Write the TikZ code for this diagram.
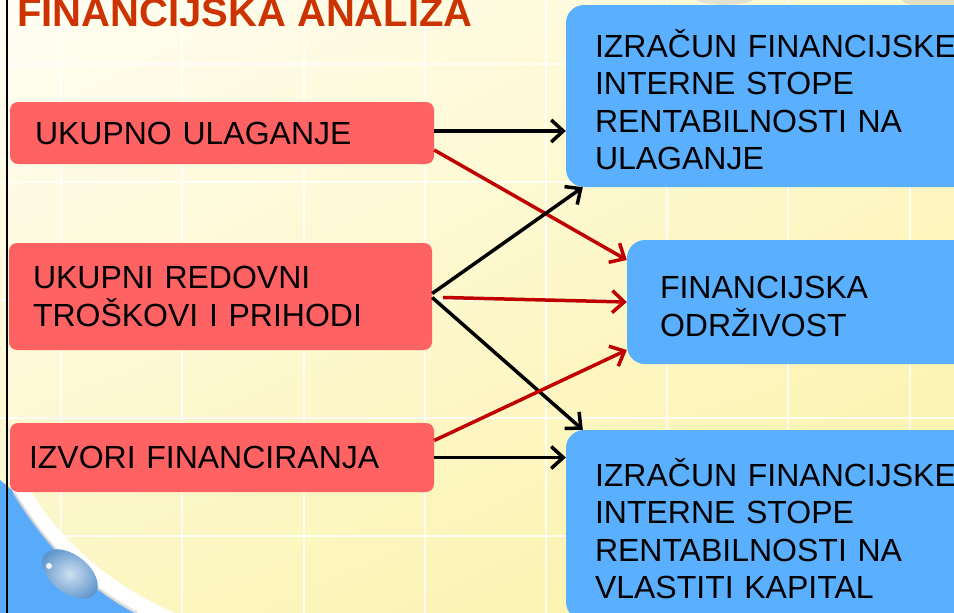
\documentclass[tikz,border=0pt]{standalone}
\usepackage{fontspec}
\setmainfont{Liberation Sans}
\usetikzlibrary{arrows.meta,shadings}
\definecolor{redbox}{RGB}{255,98,98}
\definecolor{bluebox}{RGB}{90,175,254}
\definecolor{titlered}{RGB}{204,51,0}
\definecolor{arrred}{RGB}{192,0,0}
\definecolor{bgA}{RGB}{255,254,244}
\definecolor{bgB}{RGB}{253,248,205}
\definecolor{bgC}{RGB}{252,246,196}
\definecolor{bgD}{RGB}{252,242,165}
\definecolor{decoblue}{RGB}{88,170,250}
\definecolor{dropcol}{RGB}{95,150,205}
\tikzset{
  boxtext/.style={font=\fontsize{32}{37.5}\selectfont, align=left, inner ysep=0pt, anchor=center},
  redb/.style={boxtext, fill=redbox, rounded corners=8pt},
  blueb/.style={boxtext, fill=bluebox, rounded corners=18pt},
  conn/.style={line width=3.5pt, -{Straight Barb[length=12pt,width=22pt,line width=3.5pt]}},
  blackconn/.style={conn, draw=black},
  redconn/.style={conn, draw=arrred},
  gridline/.style={draw=white, line width=2pt, opacity=0.8}
}
\begin{document}
\begin{tikzpicture}[x=1pt,y=-1pt]
\useasboundingbox (0,0) rectangle (954,613);
\clip (0,0) rectangle (954,613);
% background
\shade[upper left=bgA, upper right=bgB, lower left=bgC, lower right=bgD] (0,0) rectangle (954,613);
\foreach \gx in {61,182,304,425,546,667,788,910} \draw[gridline] (\gx,0) -- (\gx,613);
\foreach \gy in {64,182,300,418,536} \draw[gridline] (0,\gy) -- (954,\gy);
% top decorations
\fill[gray!35, opacity=0.6] (725,-4) ellipse [x radius=32pt, y radius=9pt];
\fill[olive!25!gray!40, opacity=0.6] (935,-2) ellipse [x radius=34pt, y radius=10pt];
% bottom-left decoration
\fill[decoblue] (0,480) -- (12,490) .. controls (45,545) and (85,585) .. (135,613) -- (0,613) -- cycle;
\fill[white] (12,490) .. controls (45,545) and (85,585) .. (135,613) -- (175,613) .. controls (110,585) and (60,540) .. (30,490) -- cycle;
\draw[gray!40, line width=3pt, opacity=0.6] (14,493) .. controls (47,547) and (87,587) .. (137,613);
\shade[inner color=white!70!dropcol, outer color=dropcol, rotate around={-38:(70,574)}] (70,574) ellipse [x radius=32pt, y radius=19pt];
\fill[white, opacity=0.9] (49,566) circle [radius=3pt];
% left border
\draw[black, line width=2pt] (7,0) -- (7,613);
% title
\node[anchor=base west, inner sep=0pt, text=titlered, font=\fontsize{40}{40}\selectfont\bfseries] (title) at (17,26) {FINANCIJSKA ANALIZA};
% red boxes
\node[redb, inner xsep=25pt, text width=374pt, minimum height=62pt] (r1) at (222,133) {UKUPNO ULAGANJE};
\node[redb, inner xsep=24pt, text width=375pt, minimum height=107pt] (r2) at (220.5,296.5) {UKUPNI REDOVNI\\TROŠKOVI I PRIHODI};
\node[redb, inner xsep=19pt, text width=386pt, minimum height=69pt] (r3) at (222,457.5) {IZVORI FINANCIRANJA};
% blue boxes
\node[blueb, inner xsep=29pt, text width=376pt, minimum height=182pt] (b1) at (783,96) {\rule{0pt}{35pt}IZRAČUN FINANCIJSKE\\INTERNE STOPE\\RENTABILNOSTI NA\\ULAGANJE};
\node[blueb, inner xsep=33pt, text width=307pt, minimum height=124pt] (b2) at (813.5,302) {\rule{0pt}{31pt}FINANCIJSKA\\ODRŽIVOST};
\node[blueb, inner xsep=29pt, text width=376pt, minimum height=190pt] (b3) at (783,525) {\rule{0pt}{35pt}IZRAČUN FINANCIJSKE\\INTERNE STOPE\\RENTABILNOSTI NA\\VLASTITI KAPITAL};
% connectors
\draw[blackconn] ([yshift=2pt]r1.east) -- ([yshift=2pt]r1.east -| b1.west);
\draw[redconn] ([yshift=-17pt]r1.east) -- ([yshift=42pt]b2.west);
\draw[blackconn] ([yshift=3pt]r2.east) -- ([xshift=17pt]b1.south west);
\draw[redconn] ([xshift=11pt,yshift=-1pt]r2.east) -- (b2.west);
\draw[blackconn] ([yshift=-1pt]r2.east) -- ([xshift=17pt]b3.north west);
\draw[redconn] ([yshift=17pt]r3.east) -- ([yshift=-48pt]b2.west);
\draw[blackconn] (r3.east) -- (r3.east -| b3.west);
\end{tikzpicture}
\end{document}
